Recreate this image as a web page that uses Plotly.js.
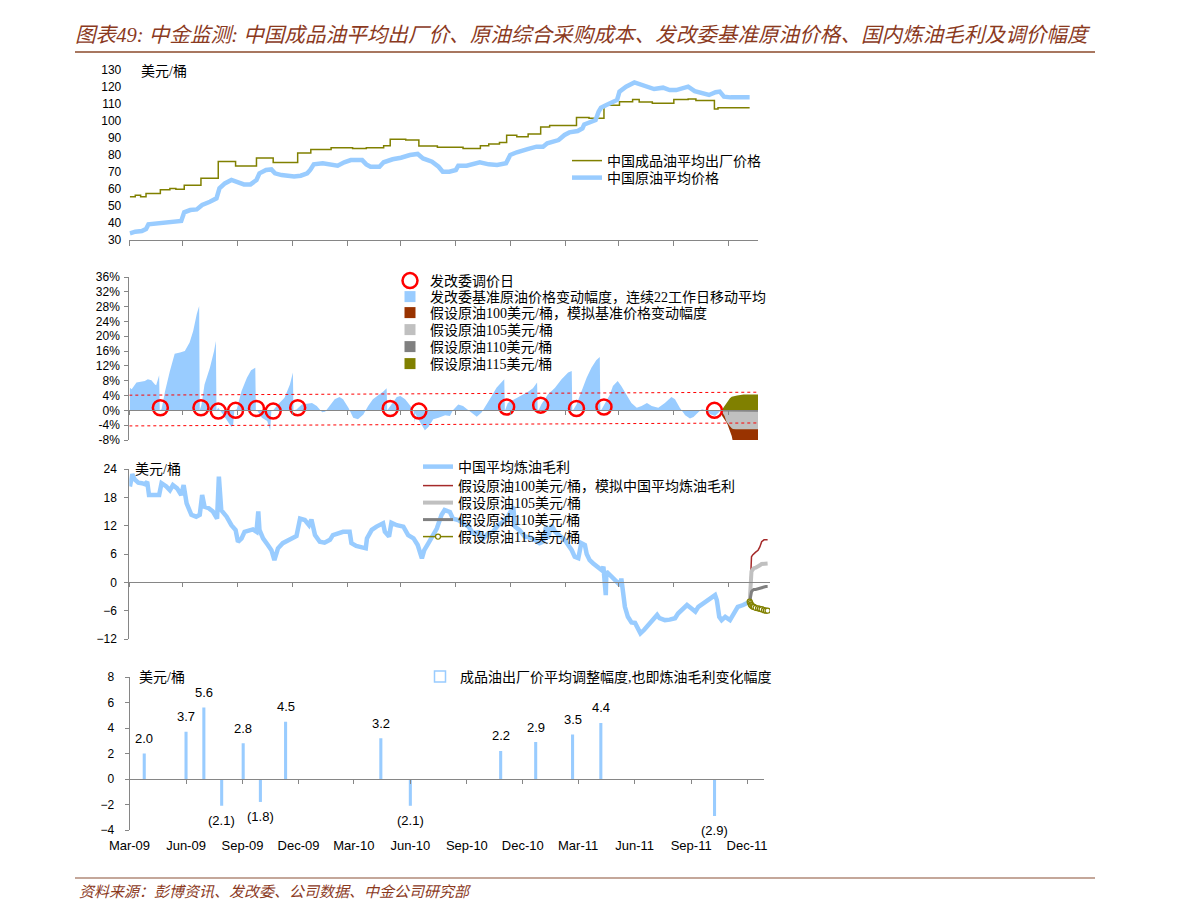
<!DOCTYPE html>
<html><head><meta charset="utf-8">
<script src="https://cdn.plot.ly/plotly-3.0.1.min.js"></script>
<style>html,body{margin:0;padding:0;background:#fff;} #chart{width:1191px;height:919px;}</style>
</head><body><div id="chart"></div>
<script>
// ---------------- DATA ----------------
const tickDates = ['2009-02-01','2009-05-01','2009-08-01','2009-11-01','2010-02-01','2010-05-01','2010-08-01','2010-11-01','2011-02-01','2011-05-01','2011-08-01','2011-11-01'];
const quarterDates = ['2009-03-01','2009-06-01','2009-09-01','2009-12-01','2010-03-01','2010-06-01','2010-09-01','2010-12-01','2011-03-01','2011-06-01','2011-09-01','2011-12-01'];
const quarterLabels = ['Mar-09','Jun-09','Sep-09','Dec-09','Mar-10','Jun-10','Sep-10','Dec-10','Mar-11','Jun-11','Sep-11','Dec-11'];
const pctTicks = [-8,-4,0,4,8,12,16,20,24,28,32,36];

// Panel 1: product ex-factory price (step) and crude price, USD/bbl
const productDates = ['2009-02-02','2009-02-11','2009-02-20','2009-03-01','2009-03-25','2009-04-10','2009-04-20','2009-05-04','2009-06-01','2009-06-30','2009-07-29','2009-09-02','2009-09-30','2009-11-10','2009-12-02','2010-01-05','2010-02-10','2010-03-05','2010-04-03','2010-04-14','2010-05-10','2010-06-01','2010-07-02','2010-08-14','2010-09-12','2010-09-26','2010-10-14','2010-10-26','2010-11-12','2010-12-01','2010-12-22','2011-01-06','2011-02-20','2011-03-13','2011-04-07','2011-05-03','2011-05-25','2011-06-05','2011-06-27','2011-08-02','2011-08-26','2011-09-08','2011-10-09','2011-10-15','2011-12-07'];
const productVals = [55.5,56.3,55.5,57.3,59.6,60.3,59.8,62.2,66.3,76.2,73.5,78.2,75.6,81.2,83.2,84.3,83.8,84.3,85.5,89.3,88.8,85.3,84.5,83.8,85.5,86.5,87.3,91.6,90.8,92.3,96.5,97.3,102.1,101.6,109.2,111.3,112.6,111.2,110.4,112.6,113,112,107,107.8,107.8];

const crudeDates = ['2009-02-02','2009-02-11','2009-02-22','2009-03-01','2009-03-05','2009-03-20','2009-04-03','2009-04-18','2009-04-29','2009-05-04','2009-05-14','2009-05-25','2009-06-03','2009-06-16','2009-06-27','2009-07-02','2009-07-11','2009-07-22','2009-08-01','2009-08-12','2009-08-23','2009-09-02','2009-09-07','2009-09-18','2009-09-27','2009-10-03','2009-10-14','2009-10-25','2009-11-04','2009-11-15','2009-11-26','2009-12-01','2009-12-07','2009-12-22','2010-01-05','2010-01-16','2010-01-27','2010-02-07','2010-02-26','2010-03-05','2010-03-12','2010-03-27','2010-04-03','2010-04-18','2010-05-02','2010-05-17','2010-05-30','2010-06-08','2010-06-23','2010-07-04','2010-07-11','2010-07-22','2010-08-02','2010-08-06','2010-08-20','2010-08-31','2010-09-11','2010-09-26','2010-10-10','2010-10-25','2010-11-01','2010-11-12','2010-11-23','2010-11-30','2010-12-15','2010-12-26','2011-01-02','2011-01-10','2011-01-21','2011-01-31','2011-02-08','2011-02-22','2011-03-02','2011-03-05','2011-03-16','2011-03-24','2011-03-29','2011-04-02','2011-04-11','2011-04-22','2011-04-29','2011-05-03','2011-05-14','2011-05-28','2011-06-08','2011-06-23','2011-06-30','2011-07-15','2011-07-26','2011-08-06','2011-08-17','2011-08-26','2011-09-06','2011-09-19','2011-09-30','2011-10-11','2011-10-18','2011-10-25','2011-11-05','2011-12-07'];
const crudeVals = [33.9,34.9,35.3,36.5,39.2,39.8,40.2,40.8,41.2,46.3,47.6,48,50.6,52.5,54.5,60.4,63.3,65.3,63.9,62.7,62.7,65.3,69.2,71.2,71.5,69.2,68.2,67.8,67.3,67.8,69.2,71.2,74.5,75.1,74.5,73.7,75.7,77,77,74.5,73.1,73.1,75.7,77.5,78.4,80,80.6,78,76.1,73.1,70.2,70.2,71.2,73.7,73.7,74.5,75.7,74.5,74.1,75.1,80,81.6,82.4,83.5,84.9,84.9,86.9,87.8,88.8,91.8,93.3,94.1,95.7,98,99.2,100.6,105.5,107.8,109.4,111,112.4,117.3,120.2,122.7,121.2,119.2,118.8,119.6,118.2,118.2,119.2,120.2,117.6,116.3,115.3,116.9,117.3,114.3,113.9,113.9];

// Panel 2: NDRC benchmark crude price change, 22-working-day moving average (%)
const benchDates = ['2009-02-02','2009-02-05','2009-02-13','2009-02-27','2009-03-04','2009-03-10','2009-03-16','2009-03-18','2009-03-23','2009-03-24','2009-03-27','2009-04-02','2009-04-10','2009-04-18','2009-04-27','2009-05-05','2009-05-13','2009-05-19','2009-05-25','2009-05-29','2009-05-30','2009-06-02','2009-06-07','2009-06-16','2009-06-23','2009-06-26','2009-06-27','2009-06-30','2009-07-08','2009-07-17','2009-07-22','2009-07-25','2009-07-27','2009-07-31','2009-08-08','2009-08-17','2009-08-24','2009-08-31','2009-09-01','2009-09-03','2009-09-11','2009-09-20','2009-09-25','2009-09-27','2009-09-30','2009-10-08','2009-10-19','2009-10-28','2009-11-02','2009-11-03','2009-11-08','2009-11-17','2009-11-26','2009-12-04','2009-12-12','2009-12-21','2009-12-26','2010-01-03','2010-01-11','2010-01-19','2010-01-25','2010-02-03','2010-02-11','2010-02-19','2010-02-28','2010-03-08','2010-03-16','2010-03-25','2010-04-02','2010-04-08','2010-04-09','2010-04-10','2010-04-16','2010-04-25','2010-05-01','2010-05-09','2010-05-18','2010-05-23','2010-05-25','2010-05-26','2010-05-28','2010-06-06','2010-06-11','2010-06-17','2010-06-25','2010-07-04','2010-07-15','2010-07-23','2010-07-28','2010-08-06','2010-08-14','2010-08-23','2010-08-31','2010-09-06','2010-09-14','2010-09-23','2010-10-01','2010-10-09','2010-10-17','2010-10-22','2010-10-23','2010-10-24','2010-10-28','2010-11-08','2010-11-20','2010-12-01','2010-12-09','2010-12-16','2010-12-17','2010-12-19','2010-12-23','2011-01-03','2011-01-15','2011-01-26','2011-02-06','2011-02-12','2011-02-13','2011-02-15','2011-02-20','2011-02-28','2011-03-09','2011-03-17','2011-03-25','2011-03-31','2011-04-01','2011-04-03','2011-04-08','2011-04-17','2011-04-22','2011-04-30','2011-05-06','2011-05-15','2011-05-23','2011-06-01','2011-06-09','2011-06-18','2011-06-26','2011-07-07','2011-07-18','2011-07-29','2011-08-04','2011-08-12','2011-08-21','2011-08-29','2011-09-04','2011-09-12','2011-09-18','2011-09-25','2011-10-01','2011-10-10','2011-10-16','2011-10-20'];
const benchVals = [6.1,5.7,7.5,7.9,8.4,8.1,7.0,6.8,9.5,0,0.3,5.2,10.6,15.3,15.6,16,18.3,21.4,26,28.2,0,1.6,7,11.5,16,18.7,0,0.7,-1.1,-3.3,-4.5,-3.8,0,0.3,5.2,8.8,10.8,11.5,0,0,-2,-2.9,-5.4,0,0,1.6,3.4,7,10.2,0,0.2,1.6,1.8,2,1.2,-0.5,-0.4,1.2,3,3.6,3,0.7,-2,-2.4,-1.1,1.2,3,4.1,5,6,0,0.2,1.6,3.6,3.9,3,1.2,-0.2,-3.5,-0.8,-1.5,-4.2,-5.4,-4.5,-2.4,-2,-1.3,-1.5,0,1.6,1.2,0,-1.1,-1.7,-0.6,1.6,3.9,6.1,7.5,8.4,0,0.3,2,3,3.9,5,6,7.5,0,0.2,1.6,4.3,6.1,8.4,10.2,10.6,0,0.2,1.6,5.2,8.8,11.5,13.5,14.4,0,0.2,1.6,4.3,6.6,7.9,6.6,4.3,2,0.7,1.2,2,1.2,0.7,2,3.6,3,0.7,-1.3,-2.2,-1.8,-0.5,0.3,0,-1,-1.5,-0.5,0];

const thresholdDates = ['2009-02-01','2011-12-21'];
const thresholdUpper = [4.1, 4.9];
const thresholdLower = [-4.2, -3.4];

const scen2Dates = ['2011-10-20','2011-10-22','2011-10-24','2011-10-26','2011-10-29','2011-10-31','2011-11-02','2011-11-04','2011-11-07','2011-11-09','2011-11-14','2011-11-16','2011-11-27','2011-12-23'];
const bench100 = [0,-1.5,-2,-2.4,-3.2,-3.8,-4.6,-5.6,-6.9,-8.5,-10,-10,-10,-10];
const bench105 = [0,-0.5,-1,-1.5,-3,-3.5,-4,-4.3,-4.8,-5,-5.1,-5.1,-5.1,-5.1];
const bench110 = [0,-0.2,-0.3,-0.3,-0.3,-0.3,-0.4,-0.4,-0.4,-0.4,-0.4,-0.4,-0.4,-0.4];
const bench115 = [0,0.3,0.7,1.2,2,2.5,3,3.3,3.7,3.8,4,4,4.3,4.3];

// NDRC price adjustment days
const adjDates = ['2009-03-25','2009-06-01','2009-06-30','2009-07-29','2009-09-02','2009-09-30','2009-11-10','2010-04-14','2010-06-01','2010-10-26','2010-12-22','2011-02-20','2011-04-07','2011-10-09'];
const circleY = [0.7,0.7,-0.2,0,0.5,-0.2,0.7,0.5,-0.2,0.9,1.4,0.5,0.9,0];
const adjustUSD = [2.0,3.7,5.6,-2.1,2.8,-1.8,4.5,3.2,-2.1,2.2,2.9,3.5,4.4,-2.9];

// Panel 3: China average refining margin, USD/bbl
const marginDates = ['2009-02-02','2009-02-06','2009-02-10','2009-02-16','2009-02-22','2009-02-27','2009-03-03','2009-03-06','2009-03-23','2009-03-27','2009-04-04','2009-04-10','2009-04-15','2009-04-22','2009-04-29','2009-05-03','2009-05-08','2009-05-16','2009-05-24','2009-05-30','2009-06-03','2009-06-07','2009-06-14','2009-06-21','2009-06-28','2009-07-01','2009-07-05','2009-07-14','2009-07-22','2009-07-29','2009-08-02','2009-08-08','2009-08-13','2009-08-22','2009-08-27','2009-09-02','2009-09-05','2009-09-07','2009-09-13','2009-09-21','2009-09-27','2009-10-02','2009-10-08','2009-10-16','2009-10-25','2009-11-02','2009-11-08','2009-11-14','2009-11-22','2009-11-29','2009-12-03','2009-12-09','2009-12-17','2009-12-25','2010-01-03','2010-01-08','2010-01-17','2010-01-25','2010-02-05','2010-02-08','2010-02-16','2010-02-25','2010-03-04','2010-03-06','2010-03-14','2010-03-22','2010-04-02','2010-04-05','2010-04-12','2010-04-16','2010-04-25','2010-05-06','2010-05-14','2010-05-23','2010-05-30','2010-06-06','2010-06-10','2010-06-17','2010-06-25','2010-07-01','2010-07-09','2010-07-14','2010-07-23','2010-07-28','2010-08-06','2010-08-14','2010-08-23','2010-08-31','2010-09-09','2010-09-17','2010-09-25','2010-10-03','2010-10-12','2010-10-20','2010-10-28','2010-11-03','2010-11-06','2010-11-09','2010-11-17','2010-11-25','2010-12-04','2010-12-12','2010-12-20','2010-12-26','2010-12-31','2011-01-03','2011-01-09','2011-01-15','2011-01-23','2011-01-31','2011-02-06','2011-02-12','2011-02-17','2011-02-23','2011-02-28','2011-03-06','2011-03-09','2011-03-14','2011-03-20','2011-03-27','2011-04-03','2011-04-06','2011-04-08','2011-04-10','2011-04-11','2011-04-17','2011-04-22','2011-04-28','2011-05-04','2011-05-06','2011-05-09','2011-05-12','2011-05-17','2011-05-23','2011-05-29','2011-06-03','2011-06-07','2011-06-13','2011-06-20','2011-06-28','2011-07-05','2011-07-09','2011-07-18','2011-07-26','2011-08-04','2011-08-09','2011-08-15','2011-08-24','2011-08-31','2011-09-07','2011-09-12','2011-09-21','2011-09-29','2011-10-06','2011-10-10','2011-10-13','2011-10-17','2011-10-21','2011-10-27','2011-11-04','2011-11-09','2011-11-12','2011-11-17','2011-11-26','2011-12-03','2011-12-07'];
const marginVals = [20.3,22.9,21.8,21.1,21,20.8,21.3,18.5,18.5,21,20.3,19.5,20.6,19.9,18.5,20.6,16.7,14.3,13.9,14.3,18.5,16,15.7,15,13.5,22.4,15.3,13.9,12.1,11.1,8.6,9.3,10.7,11.1,11.2,10.7,15,11.1,9.3,7.9,6.8,4.7,7.2,8.3,8.8,9.3,9.8,13.5,13.2,12.1,13.3,10,8.6,8.4,9,10,10.4,10.7,10.7,8.3,7.7,7.4,7.2,9.3,11.1,11.8,12.5,10.7,9.7,12.6,12.1,11.8,10,9.3,7.9,5.1,6.8,8.3,10,11.4,14.3,15.3,14.9,13.5,13.2,12.5,11.8,10.4,10.6,9.3,10.4,10.7,12.1,12.8,13.9,15.3,16,11.8,11,9.7,9.5,9,8.3,8.6,11.8,9.3,12.1,10.7,9.7,9,7.9,6.8,5.4,5.1,8.3,7.9,6,4.7,4,3.3,2.6,3.3,1.2,-2.7,2.3,1.6,0.8,0.1,-0.6,0.8,-1.6,-5.2,-7.3,-8.5,-8.6,-9.7,-10.8,-10.1,-9,-8,-6.9,-7.6,-8,-7.9,-7.6,-6.6,-5.9,-4.8,-5.5,-6.2,-5.2,-4.4,-3.4,-3,-2.7,-3.8,-7.3,-8,-7.3,-8,-6.9,-5.9,-5.2,-4.8,-4.3,-4.1];

const scen3Dates = ['2011-12-07','2011-12-08','2011-12-09','2011-12-10','2011-12-12','2011-12-14','2011-12-17','2011-12-21','2011-12-24','2011-12-27','2011-12-31','2012-01-03','2012-01-06'];
const margin100 = [-4.1,-1,2.3,5.4,5.8,6.1,6.4,6.8,7.5,8.6,9,9,9];
const margin105 = [-4.1,-1.5,1.9,2.3,2.7,3,3.1,3.3,3.6,3.9,4,4,4];
const margin110 = [-4.1,-3,-2.3,-2,-1.7,-1.5,-1.5,-1.4,-1.2,-1.1,-1,-0.9,-0.9];
const margin115 = [-4.1,-4.4,-4.7,-4.9,-5.1,-5.2,-5.4,-5.5,-5.6,-5.7,-5.9,-6,-6];

// ---------------- STYLE / LAYOUT HELPERS ----------------
const W = 1191, H = 919;
const fx = v => v / W;
const fy = v => 1 - v / H;
const TICKFONT = {family: 'Liberation Sans, Arial, sans-serif', size: 12, color: '#000'};
const CJK = "'Liberation Serif', 'Noto Sans CJK SC', serif";
const LEGFONT = {family: CJK, size: 14, color: '#000'};
const AXC = '#868686';
const BLUE = '#99CCFF';

// legend swatch helper (legend entry only, carries no data)
function swatch(name, color, legendId, symbol) {
  return {x: [null], y: [null], type: 'scatter', mode: 'markers', name: name, legend: legendId,
          marker: {symbol: symbol || 'square', size: 11, color: color, line: {width: symbol ? 1.5 : 0, color: color}},
          xaxis: 'x2', yaxis: 'y2', hoverinfo: 'skip'};
}

const traces = [
  // panel 1
  {x: productDates, y: productVals, type: 'scatter', mode: 'lines', name: '中国成品油平均出厂价格',
   line: {color: '#808000', width: 1.5, shape: 'hv'}, xaxis: 'x', yaxis: 'y', legend: 'legend'},
  {x: crudeDates, y: crudeVals, type: 'scatter', mode: 'lines', name: '中国原油平均价格',
   line: {color: BLUE, width: 4.5}, xaxis: 'x', yaxis: 'y', legend: 'legend2'},
  // panel 2
  {x: benchDates, y: benchVals, type: 'scatter', mode: 'lines', fill: 'tozeroy', fillcolor: BLUE,
   name: '发改委基准原油价格变动幅度，连续22工作日移动平均', line: {color: BLUE, width: 0},
   xaxis: 'x2', yaxis: 'y2', showlegend: false},
  {x: scen2Dates, y: bench100, type: 'scatter', mode: 'lines', fill: 'tozeroy', fillcolor: '#993300',
   name: '假设原油100美元/桶，模拟基准价格变动幅度', line: {color: '#993300', width: 0},
   xaxis: 'x2', yaxis: 'y2', showlegend: false},
  {x: scen2Dates, y: bench105, type: 'scatter', mode: 'lines', fill: 'tozeroy', fillcolor: '#C0C0C0',
   name: '假设原油105美元/桶', line: {color: '#C0C0C0', width: 0}, xaxis: 'x2', yaxis: 'y2', showlegend: false},
  {x: scen2Dates, y: bench110, type: 'scatter', mode: 'lines', fill: 'tozeroy', fillcolor: '#808080',
   name: '假设原油110美元/桶', line: {color: '#808080', width: 0}, xaxis: 'x2', yaxis: 'y2', showlegend: false},
  {x: scen2Dates, y: bench115, type: 'scatter', mode: 'lines', fill: 'tozeroy', fillcolor: '#808000',
   name: '假设原油115美元/桶', line: {color: '#808000', width: 0}, xaxis: 'x2', yaxis: 'y2', showlegend: false},
  {x: thresholdDates, y: thresholdUpper, type: 'scatter', mode: 'lines', showlegend: false,
   line: {color: '#FF0000', width: 1, dash: 'dot'}, xaxis: 'x2', yaxis: 'y2'},
  {x: thresholdDates, y: thresholdLower, type: 'scatter', mode: 'lines', showlegend: false,
   line: {color: '#FF0000', width: 1, dash: 'dot'}, xaxis: 'x2', yaxis: 'y2'},
  {x: adjDates, y: circleY, type: 'scatter', mode: 'markers', name: '发改委调价日',
   marker: {symbol: 'circle-open', size: 15, color: '#FF0000', line: {width: 2.5, color: '#FF0000'}},
   xaxis: 'x2', yaxis: 'y2', legend: 'legend3'},
  swatch('发改委基准原油价格变动幅度，连续22工作日移动平均', BLUE, 'legend4'),
  swatch('假设原油100美元/桶，模拟基准价格变动幅度', '#993300', 'legend5'),
  swatch('假设原油105美元/桶', '#C0C0C0', 'legend6'),
  swatch('假设原油110美元/桶', '#808080', 'legend7'),
  swatch('假设原油115美元/桶', '#808000', 'legend8'),
  // panel 3
  {x: marginDates, y: marginVals, type: 'scatter', mode: 'lines', name: '中国平均炼油毛利',
   line: {color: BLUE, width: 4.5}, xaxis: 'x3', yaxis: 'y3', legend: 'legend9'},
  {x: scen3Dates, y: margin100, type: 'scatter', mode: 'lines', name: '假设原油100美元/桶，模拟中国平均炼油毛利',
   line: {color: '#A52A2A', width: 1.5}, xaxis: 'x3', yaxis: 'y3', legend: 'legend10'},
  {x: scen3Dates, y: margin105, type: 'scatter', mode: 'lines', name: '假设原油105美元/桶',
   line: {color: '#C0C0C0', width: 4}, xaxis: 'x3', yaxis: 'y3', legend: 'legend11'},
  {x: scen3Dates, y: margin110, type: 'scatter', mode: 'lines', name: '假设原油110美元/桶',
   line: {color: '#808080', width: 3}, xaxis: 'x3', yaxis: 'y3', legend: 'legend12'},
  {x: scen3Dates, y: margin115, type: 'scatter', mode: 'lines+markers', name: '假设原油115美元/桶',
   line: {color: '#808000', width: 1.5},
   marker: {symbol: 'circle', size: 5, color: '#FFFFFF', line: {color: '#808000', width: 1.3}},
   xaxis: 'x3', yaxis: 'y3', legend: 'legend13'},
  // panel 4
  {x: adjDates, y: adjustUSD, type: 'bar', name: '成品油出厂价平均调整幅度,也即炼油毛利变化幅度',
   width: 5 * 864e5, marker: {color: BLUE, line: {width: 0}}, xaxis: 'x4', yaxis: 'y4', showlegend: false},
  swatch('成品油出厂价平均调整幅度,也即炼油毛利变化幅度', BLUE, 'legend14', 'square-open'),
  {x: quarterDates, y: quarterDates.map(() => 0), type: 'scatter', mode: 'none', showlegend: false,
   hoverinfo: 'skip', xaxis: 'x5', yaxis: 'y4'}
];

const fmt = v => v >= 0 ? v.toFixed(1) : '(' + Math.abs(v).toFixed(1) + ')';
const annotations = [
  {text: '美元/桶', xref: 'paper', yref: 'paper', x: fx(139), y: fy(71), xanchor: 'left', yanchor: 'middle', showarrow: false, font: {family: CJK, size: 14, color: '#000'}},
  {text: '美元/桶', xref: 'paper', yref: 'paper', x: fx(133), y: fy(470), xanchor: 'left', yanchor: 'middle', showarrow: false, font: {family: CJK, size: 14, color: '#000'}},
  {text: '美元/桶', xref: 'paper', yref: 'paper', x: fx(137), y: fy(677), xanchor: 'left', yanchor: 'middle', showarrow: false, font: {family: CJK, size: 14, color: '#000'}},
  {text: '资料来源：彭博资讯、发改委、公司数据、中金公司研究部', xref: 'paper', yref: 'paper', x: fx(77), y: fy(890), xanchor: 'left', yanchor: 'middle', showarrow: false,
   font: {family: "'Noto Sans CJK SC', sans-serif", size: 15, color: '#8B3A1E', style: 'italic'}}
].concat(adjustUSD.map((v, i) => ({
  text: fmt(v), x: adjDates[i], y: v, xref: 'x4', yref: 'y4', showarrow: false,
  yshift: v >= 0 ? 15 : -15, font: {family: 'Liberation Sans, Arial, sans-serif', size: 13, color: '#000'}
})));

function mkLegend(textX, rowY) {
  return {x: fx(textX - 40), y: fy(rowY), xanchor: 'left', yanchor: 'middle', bgcolor: 'rgba(0,0,0,0)',
          borderwidth: 0, font: LEGFONT, itemwidth: 30, orientation: 'v'};
}
const baseX = {showgrid: false, zeroline: false, fixedrange: true, type: 'date', linecolor: AXC, tickcolor: AXC, linewidth: 1};
const baseY = {showgrid: false, zeroline: false, fixedrange: true, tickfont: TICKFONT, linecolor: AXC, tickcolor: AXC, linewidth: 1};

const layout = {
  width: W, height: H, margin: {l: 0, r: 0, t: 0, b: 0}, paper_bgcolor: '#fff', plot_bgcolor: 'rgba(0,0,0,0)',
  showlegend: true, hovermode: false,
  title: {text: '图表49: 中金监测: 中国成品油平均出厂价、原油综合采购成本、发改委基准原油价格、国内炼油毛利及调价幅度',
          x: fx(75), xanchor: 'left', y: fy(35), yanchor: 'middle',
          font: {family: "'Liberation Serif', 'Noto Sans CJK SC', serif", size: 20.6, color: '#8B3A1E', style: 'italic'}},
  // panel 1
  xaxis: Object.assign({}, baseX, {domain: [fx(129.3), fx(758)], range: ['2009-02-01', '2011-12-21'], anchor: 'y',
          showline: true, ticks: 'outside', ticklen: 5, tickvals: tickDates, showticklabels: false}),
  yaxis: Object.assign({}, baseY, {domain: [fy(240), fy(70)], range: [30, 130], anchor: 'x',
          tickvals: [30,40,50,60,70,80,90,100,110,120,130], ticks: '', showline: false, ticklabelstandoff: 7}),
  // panel 2
  xaxis2: Object.assign({}, baseX, {domain: [fx(129.3), fx(758)], range: ['2009-02-01', '2011-12-21'], anchor: 'free',
          position: fy(410.4), showline: true, ticks: 'outside', ticklen: 4, tickvals: tickDates, showticklabels: false}),
  yaxis2: Object.assign({}, baseY, {domain: [fy(440), fy(277)], range: [-8, 36], anchor: 'x2',
          tickvals: pctTicks, ticktext: pctTicks.map(v => v + '%'), ticks: 'outside', ticklen: 4, showline: true, ticklabelstandoff: 2}),
  // panel 3
  xaxis3: Object.assign({}, baseX, {domain: [fx(129.3), fx(770)], range: ['2009-02-01', '2012-01-10'], anchor: 'free',
          position: fy(582.3), showline: true, ticks: 'outside', ticklen: 4, tickvals: tickDates, showticklabels: false}),
  yaxis3: Object.assign({}, baseY, {domain: [fy(639), fy(469)], range: [-12, 24], anchor: 'x3',
          tickvals: [-12,-6,0,6,12,18,24], ticks: 'outside', ticklen: 4, showline: true, ticklabelstandoff: 5}),
  // panel 4
  xaxis4: Object.assign({}, baseX, {domain: [fx(129.5), fx(764.3)], range: ['2009-03-01', '2011-12-29'], anchor: 'y4',
          showline: false, ticks: '', tickvals: quarterDates, ticktext: quarterLabels, tickfont: Object.assign({}, TICKFONT, {size: 13}),
          ticklabelstandoff: 6}),
  xaxis5: Object.assign({}, baseX, {domain: [fx(129.5), fx(764.3)], range: ['2009-03-01', '2011-12-29'], anchor: 'free',
          overlaying: 'x4', position: fy(779), showline: true, ticks: 'outside', ticklen: 4, tickvals: quarterDates, showticklabels: false}),
  yaxis4: Object.assign({}, baseY, {domain: [fy(830), fy(677)], range: [-4, 8], anchor: 'x4',
          tickvals: [-4,-2,0,2,4,6,8], ticks: 'outside', ticklen: 4, showline: true, ticklabelstandoff: 8}),
  legend: mkLegend(607, 161),
  legend2: mkLegend(607, 178),
  legend3: mkLegend(430, 281),
  legend4: mkLegend(430, 297),
  legend5: mkLegend(430, 313),
  legend6: mkLegend(430, 330),
  legend7: mkLegend(430, 347),
  legend8: mkLegend(430, 364),
  legend9: mkLegend(458, 467),
  legend10: mkLegend(458, 486),
  legend11: mkLegend(458, 503),
  legend12: mkLegend(458, 520),
  legend13: mkLegend(458, 537),
  legend14: mkLegend(460, 677),
  annotations: annotations,
  shapes: [
    {type: 'line', xref: 'paper', yref: 'paper', x0: fx(75), x1: fx(1095), y0: fy(52), y1: fy(52), line: {color: '#8B4A2B', width: 1.5}},
    {type: 'line', xref: 'paper', yref: 'paper', x0: fx(75), x1: fx(1095), y0: fy(878), y1: fy(878), line: {color: '#B08A78', width: 1.5}}
  ]
};

Plotly.newPlot('chart', traces, layout, {displayModeBar: false, staticPlot: true});
</script></body></html>
